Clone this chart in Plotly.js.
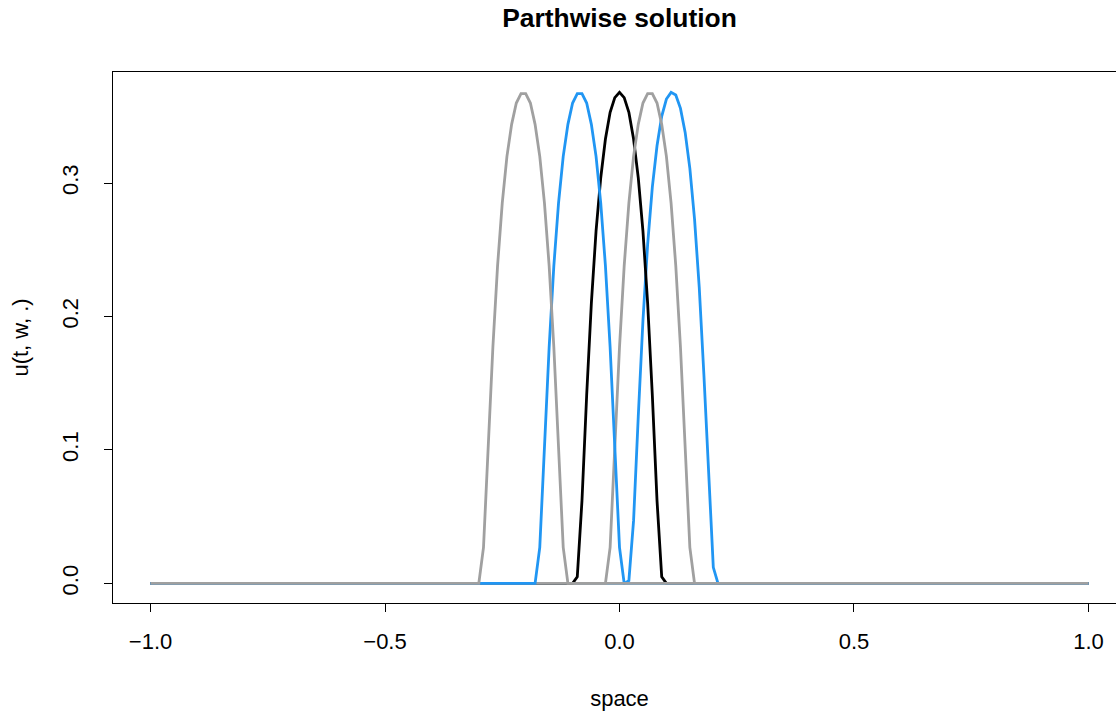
<!DOCTYPE html>
<html>
<head>
<meta charset="utf-8">
<script src="https://cdn.plot.ly/plotly-3.0.1.min.js"></script>
<style>
html, body { margin: 0; padding: 0; overflow: hidden; background: #fff; }
#chart { width: 1126px; height: 713px; }
</style>
</head>
<body>
<div id="chart"></div>
<script>
// Path 1 (grey) — bump around -0.205
const greyAX = [-1, -0.30, -0.29, -0.28, -0.27, -0.26, -0.25, -0.24, -0.23, -0.22, -0.21, -0.20, -0.19, -0.18, -0.17, -0.16, -0.15, -0.14, -0.13, -0.12, -0.11, 1];
const greyAY = [0, 0, 0.027, 0.102, 0.177, 0.238, 0.285, 0.320, 0.344, 0.360, 0.367, 0.367, 0.360, 0.344, 0.320, 0.285, 0.238, 0.177, 0.102, 0.027, 0, 0];

// Path 2 (blue) — bump around -0.085
const blueAX = [-1, -0.18, -0.17, -0.16, -0.15, -0.14, -0.13, -0.12, -0.11, -0.10, -0.09, -0.08, -0.07, -0.06, -0.05, -0.04, -0.03, -0.02, -0.01, 0.00, 0.01, 1];
const blueAY = [0, 0, 0.027, 0.102, 0.177, 0.238, 0.285, 0.320, 0.344, 0.360, 0.367, 0.367, 0.360, 0.344, 0.320, 0.285, 0.238, 0.177, 0.102, 0.027, 0, 0];

// Initial condition (black) — bump centred at 0
const blackX = [-1, -0.10, -0.09, -0.08, -0.07, -0.06, -0.05, -0.04, -0.03, -0.02, -0.01, 0.00, 0.01, 0.02, 0.03, 0.04, 0.05, 0.06, 0.07, 0.08, 0.09, 0.10, 1];
const blackY = [0, 0, 0.005, 0.062, 0.141, 0.210, 0.264, 0.304, 0.333, 0.353, 0.364, 0.368, 0.364, 0.353, 0.333, 0.304, 0.264, 0.210, 0.141, 0.062, 0.005, 0, 0];

// Path 3 (grey) — bump around 0.065
const greyBX = [-1, -0.03, -0.02, -0.01, 0.00, 0.01, 0.02, 0.03, 0.04, 0.05, 0.06, 0.07, 0.08, 0.09, 0.10, 0.11, 0.12, 0.13, 0.14, 0.15, 0.16, 1];
const greyBY = [0, 0, 0.027, 0.102, 0.177, 0.238, 0.285, 0.320, 0.344, 0.360, 0.367, 0.367, 0.360, 0.344, 0.320, 0.285, 0.238, 0.177, 0.102, 0.027, 0, 0];

// Path 4 (blue) — bump around 0.112
const blueBX = [-1, 0.01, 0.02, 0.03, 0.04, 0.05, 0.06, 0.07, 0.08, 0.09, 0.10, 0.11, 0.12, 0.13, 0.14, 0.15, 0.16, 0.17, 0.18, 0.19, 0.20, 0.21, 1];
const blueBY = [0, 0, 0.002, 0.047, 0.125, 0.197, 0.254, 0.297, 0.328, 0.350, 0.363, 0.368, 0.366, 0.356, 0.338, 0.311, 0.273, 0.222, 0.156, 0.078, 0.012, 0, 0];

const xTickVals = [-1, -0.5, 0, 0.5, 1];
const xTickText = ['\u22121.0', '\u22120.5', '0.0', '0.5', '1.0'];
const yTickVals = [0, 0.1, 0.2, 0.3];
const yTickText = ['0.0', '0.1', '0.2', '0.3'];

const GREY = '#a0a0a0';
const BLUE = '#2196f3';
const BLACK = '#000000';

function line(x, y, color) {
  return { x: x, y: y, type: 'scatter', mode: 'lines',
           line: { color: color, width: 2.8 }, hoverinfo: 'skip', showlegend: false };
}

// drawing order (bottom to top)
const traces = [
  line(blueBX, blueBY, BLUE),
  line(blackX, blackY, BLACK),
  line(greyBX, greyBY, GREY),
  line(blueAX, blueAY, BLUE),
  line(greyAX, greyAY, GREY)
];

const FONT = 'Liberation Sans, Arial, Helvetica, sans-serif';
const FS = 22;

const layout = {
  width: 1126, height: 713,
  margin: { l: 113, r: 0, t: 72, b: 110 },
  paper_bgcolor: '#ffffff', plot_bgcolor: '#ffffff',
  font: { family: FONT, size: FS, color: '#000' },
  title: { text: '<b>Parthwise solution</b>', font: { family: FONT, size: 26.4, color: '#000' },
           x: 0.5, xref: 'paper', xanchor: 'center', y: 0.975, yanchor: 'middle' },
  xaxis: {
    range: [-1.08, 1.08], showgrid: false, zeroline: false,
    showline: true, linecolor: '#000', linewidth: 1, mirror: true,
    ticks: 'outside', ticklen: 8, tickwidth: 1, tickcolor: '#000',
    tickvals: xTickVals, ticktext: xTickText, ticklabelstandoff: 11,
    tickfont: { family: FONT, size: FS, color: '#000' },
    title: { text: 'space', font: { family: FONT, size: FS, color: '#000' }, standoff: 37 }
  },
  yaxis: {
    range: [-0.0147, 0.38325], showgrid: false, zeroline: false,
    showline: true, linecolor: '#000', linewidth: 1, mirror: true,
    ticks: 'outside', ticklen: 8, tickwidth: 1, tickcolor: '#000',
    tickvals: yTickVals, ticktext: yTickText, tickangle: -90, ticklabelstandoff: 17,
    tickfont: { family: FONT, size: FS, color: '#000' },
    title: { text: 'u(t, w, .)', font: { family: FONT, size: FS, color: '#000' }, standoff: 23 }
  }
};

Plotly.newPlot('chart', traces, layout, { displayModeBar: false, staticPlot: true });
</script>
</body>
</html>
